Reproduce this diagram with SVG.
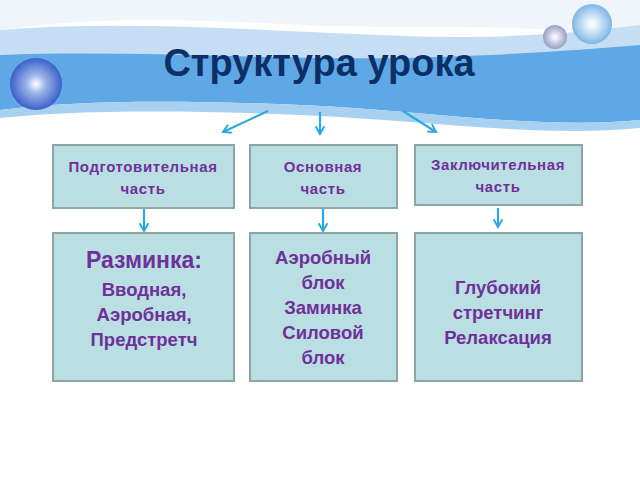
<svg xmlns="http://www.w3.org/2000/svg" width="640" height="480" viewBox="0 0 640 480">
<defs>
<style>
.box{fill:#b9dfe3;stroke:#8fa4a6;stroke-width:2}
.t{font-family:"Liberation Sans",Arial,sans-serif;font-weight:bold;fill:#70309a;text-anchor:middle}
.s{font-size:15px;letter-spacing:0.6px}
.b{font-size:18.5px}
.c{stroke:#2aa9e0;stroke-width:2.2;fill:none}
</style>
<radialGradient id="ball" cx="0.5" cy="0.5" r="0.5"><stop offset="0" stop-color="#fff"/><stop offset="0.35" stop-color="#9fb6ea"/><stop offset="1" stop-color="#3b5fc8"/></radialGradient>
<radialGradient id="ball2" cx="0.5" cy="0.5" r="0.5"><stop offset="0" stop-color="#fff"/><stop offset="0.4" stop-color="#cfe5f7"/><stop offset="1" stop-color="#7fb6e4"/></radialGradient>
<radialGradient id="ball3" cx="0.5" cy="0.5" r="0.5"><stop offset="0" stop-color="#fff"/><stop offset="1" stop-color="#9a9ec8"/></radialGradient>
<marker id="ah" viewBox="0 0 10 10" refX="8" refY="5" markerWidth="5" markerHeight="5" orient="auto"><path d="M1,1 L8,5 L1,9" fill="none" stroke="#2aa9e0" stroke-width="1.8"/></marker>
</defs>
<rect width="640" height="480" fill="#fff"/>
<path d="M0,0 H640 V40 C520,20 400,30 300,25 C200,20 100,15 0,30 Z" fill="#eef5fb"/>
<path d="M0,30 C120,20 250,30 380,35 C480,40 560,35 640,25 V70 C520,80 420,70 320,70 C200,70 100,60 0,65 Z" fill="#c5def3"/>
<path d="M0,55 C140,50 260,60 400,58 C500,56 580,50 640,45 V120 C540,130 420,110 300,105 C180,100 80,100 0,110 Z" fill="#5ea8e6"/>
<path d="M0,110 C80,100 180,100 300,105 C420,110 540,130 640,120 V128 C540,138 420,120 300,115 C180,110 80,110 0,118 Z" fill="#a8d0f1"/>
<circle cx="36" cy="84" r="26" fill="url(#ball)"/>
<circle cx="592" cy="24" r="20" fill="url(#ball2)"/>
<circle cx="555" cy="37" r="12" fill="url(#ball3)"/>
<text x="319" y="76" font-family="'Liberation Sans',Arial,sans-serif" font-weight="bold" font-size="38" fill="#0d2f66" text-anchor="middle">Структура урока</text>
<g id="connectors">
<line class="c" x1="268" y1="111" x2="223" y2="132" marker-end="url(#ah)"/>
<line class="c" x1="320" y1="112" x2="320" y2="134" marker-end="url(#ah)"/>
<line class="c" x1="403" y1="111" x2="436" y2="132" marker-end="url(#ah)"/>
<line class="c" x1="144" y1="209" x2="144" y2="231" marker-end="url(#ah)"/>
<line class="c" x1="323" y1="209" x2="323" y2="231" marker-end="url(#ah)"/>
<line class="c" x1="498" y1="208" x2="498" y2="227" marker-end="url(#ah)"/>
</g>
<g id="n1"><rect class="box" x="53" y="145" width="181" height="63"/><text class="t s" x="143" y="172">Подготовительная</text><text class="t s" x="143" y="194">часть</text></g>
<g id="n2"><rect class="box" x="250" y="145" width="147" height="63"/><text class="t s" x="323" y="172">Основная</text><text class="t s" x="323" y="194">часть</text></g>
<g id="n3"><rect class="box" x="415" y="145" width="167" height="60"/><text class="t s" x="498" y="170">Заключительная</text><text class="t s" x="498" y="192">часть</text></g>
<g id="n4"><rect class="box" x="53" y="233" width="181" height="148"/><text class="t" font-size="23" x="144" y="268">Разминка:</text><text class="t b" x="144" y="296">Вводная,</text><text class="t b" x="144" y="321">Аэробная,</text><text class="t b" x="144" y="346">Предстретч</text></g>
<g id="n5"><rect class="box" x="250" y="233" width="147" height="148"/><text class="t b" x="323" y="264">Аэробный</text><text class="t b" x="323" y="289">блок</text><text class="t b" x="323" y="314">Заминка</text><text class="t b" x="323" y="339">Силовой</text><text class="t b" x="323" y="364">блок</text></g>
<g id="n6"><rect class="box" x="415" y="233" width="167" height="148"/><text class="t b" x="498" y="294">Глубокий</text><text class="t b" x="498" y="319">стретчинг</text><text class="t b" x="498" y="344">Релаксация</text></g>
</svg>
